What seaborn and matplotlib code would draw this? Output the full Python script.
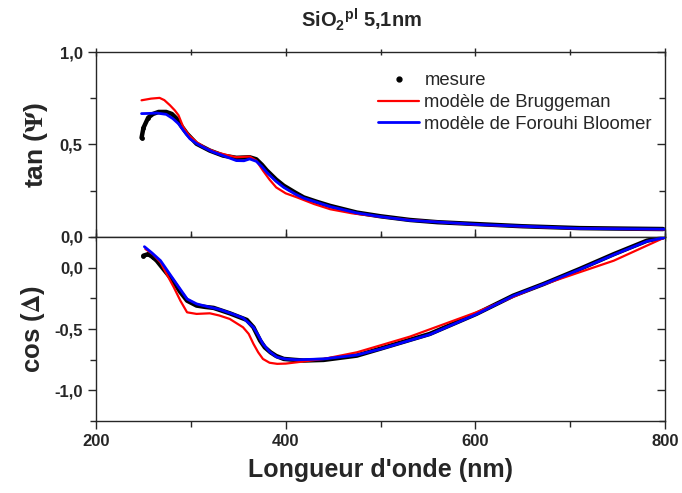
import numpy as np
import pandas as pd
import matplotlib
matplotlib.use("Agg")
import matplotlib.pyplot as plt
import seaborn as sns
from matplotlib.lines import Line2D
from matplotlib.ticker import MultipleLocator, FuncFormatter

# tan(Psi) - mesure
tan_mes_x = [248, 250, 255, 260, 266, 274, 280, 285, 290, 296, 306, 320, 334, 348, 362, 369,
             375, 380, 390, 398, 410, 419, 433, 447, 475, 500, 531, 560, 605, 650, 710, 760, 798]
tan_mes_y = [0.536, 0.59, 0.645, 0.665, 0.676, 0.676, 0.665, 0.64, 0.60, 0.558, 0.504, 0.467, 0.44,
             0.428, 0.431, 0.42, 0.39, 0.36, 0.31, 0.277, 0.24, 0.214, 0.19, 0.168, 0.132, 0.112,
             0.092, 0.08, 0.069, 0.058, 0.048, 0.045, 0.043]

# tan(Psi) - Bruggeman
tan_br_x = [248, 258, 267, 272, 278, 283, 287, 292, 298, 306, 316, 327, 338, 348, 362, 369,
            376, 383, 390, 400, 412, 430, 447, 470, 492, 530, 600, 700, 800]
tan_br_y = [0.739, 0.748, 0.752, 0.74, 0.712, 0.685, 0.658, 0.594, 0.55, 0.513, 0.48, 0.458, 0.443,
            0.431, 0.435, 0.413, 0.359, 0.31, 0.268, 0.236, 0.214, 0.178, 0.15, 0.128, 0.114,
            0.092, 0.067, 0.047, 0.04]

# tan(Psi) - Forouhi Bloomer
tan_fb_x = [248, 256, 264, 274, 281, 287, 293, 299, 306, 313, 323, 334, 348, 356, 362, 369,
            375, 380, 390, 398, 410, 419, 447, 475, 500, 531, 605, 710, 800]
tan_fb_y = [0.667, 0.668, 0.67, 0.663, 0.64, 0.612, 0.57, 0.531, 0.505, 0.485, 0.46, 0.44, 0.413,
            0.412, 0.422, 0.409, 0.38, 0.35, 0.3, 0.268, 0.232, 0.21, 0.164, 0.13, 0.11, 0.09,
            0.067, 0.046, 0.042]

# cos(Delta) - mesure
cos_mes_x = [250, 255, 260, 264, 272, 281, 289, 296, 306, 315, 324, 341, 359, 366, 373, 378, 384,
             390, 398, 410, 419, 440, 475, 500, 552, 601, 640, 672, 710, 746, 781, 798]
cos_mes_y = [0.098, 0.11, 0.085, 0.057, -0.02, -0.106, -0.2, -0.269, -0.309, -0.32, -0.328, -0.372,
             -0.426, -0.486, -0.594, -0.65, -0.69, -0.72, -0.744, -0.752, -0.757, -0.752, -0.717,
             -0.66, -0.54, -0.377, -0.228, -0.133, -0.011, 0.11, 0.22, 0.247]

# cos(Delta) - Bruggeman
cos_br_x = [252, 260, 268, 275, 282, 289, 296, 306, 320, 330, 341, 355, 361, 366, 371, 376, 383,
            391, 400, 412, 440, 475, 500, 531, 601, 668, 746, 800]
cos_br_y = [0.152, 0.11, 0.043, -0.06, -0.16, -0.27, -0.364, -0.377, -0.372, -0.39, -0.418, -0.486,
            -0.54, -0.621, -0.69, -0.744, -0.775, -0.784, -0.782, -0.771, -0.744, -0.69, -0.633,
            -0.562, -0.364, -0.147, 0.057, 0.247]

# cos(Delta) - Forouhi Bloomer
cos_fb_x = [251, 259, 268, 282, 296, 306, 313, 330, 345, 355, 366, 371, 376, 383, 391, 400, 412,
            440, 475, 500, 552, 601, 640, 672, 710, 746, 781, 800]
cos_fb_y = [0.171, 0.12, 0.057, -0.1, -0.255, -0.295, -0.309, -0.34, -0.38, -0.41, -0.486, -0.55,
            -0.621, -0.685, -0.73, -0.745, -0.751, -0.744, -0.712, -0.663, -0.545, -0.38, -0.23,
            -0.135, -0.015, 0.105, 0.215, 0.245]

x_ticks = [200, 400, 600, 800]
tan_ticks = [0.0, 0.5, 1.0]
cos_ticks = [-1.0, -0.5, 0.0]

sns.set_style("ticks")
plt.rcParams['font.family'] = ['Liberation Sans', 'DejaVu Sans']
plt.rcParams['mathtext.fontset'] = 'custom'
plt.rcParams['mathtext.rm'] = 'Liberation Sans:bold'
plt.rcParams['mathtext.bf'] = 'Liberation Sans:bold'

fig = plt.figure(figsize=(6.82, 4.93), dpi=100)
ax1 = fig.add_axes([0.1408, 0.5193, 0.8343, 0.3752])
ax2 = fig.add_axes([0.1408, 0.146, 0.8343, 0.3733])

comma = FuncFormatter(lambda v, p: f"{v:.1f}".replace('.', ','))


def draw(ax, mx, my, bx, by, fx, fy):
    # measured points: thick band, individual dots only visible at the start
    sns.lineplot(x=mx, y=my, ax=ax, color='black', linewidth=3.2, marker='o',
                 markersize=3.5, markeredgewidth=0, markevery=[0, 1, 2], sort=False,
                 solid_joinstyle='round', solid_capstyle='round', zorder=2)
    sns.lineplot(x=bx, y=by, ax=ax, color='#ff0000', linewidth=1.6, sort=False,
                 solid_joinstyle='round', zorder=3)
    sns.lineplot(x=fx, y=fy, ax=ax, color='#0000ff', linewidth=2.0, sort=False,
                 solid_joinstyle='round', zorder=4)
    ax.set_xlim(200, 800)
    ax.xaxis.set_major_locator(MultipleLocator(200))
    ax.xaxis.set_minor_locator(MultipleLocator(100))
    ax.yaxis.set_major_locator(MultipleLocator(0.5))
    ax.yaxis.set_minor_locator(MultipleLocator(0.25))
    for s in ax.spines.values():
        s.set_linewidth(1.0)
        s.set_visible(True)
    ax.tick_params(which='both', left=True, right=True, top=True, bottom=True, labelsize=12,
                   width=1.0)
    ax.tick_params(which='major', length=6)
    ax.tick_params(which='minor', length=4)
    ax.tick_params(axis='y', which='both', direction='out')


draw(ax1, tan_mes_x, tan_mes_y, tan_br_x, tan_br_y, tan_fb_x, tan_fb_y)
draw(ax2, cos_mes_x, cos_mes_y, cos_br_x, cos_br_y, cos_fb_x, cos_fb_y)

ax1.set_ylim(0, 1.0)
ax1.set_yticks(tan_ticks)
ax1.tick_params(axis='x', which='both', direction='inout', labelbottom=False)

ax2.set_ylim(-1.25, 0.25)
ax2.set_yticks(cos_ticks)
ax2.set_xticks(x_ticks)
ax2.tick_params(axis='x', which='both', direction='out')

# right-side ticks point inward
for ax in (ax1, ax2):
    for tk in ax.yaxis.get_major_ticks() + ax.yaxis.get_minor_ticks():
        tk.tick2line.set_marker(matplotlib.lines.TICKLEFT)
        tk.tick1line.set_marker(matplotlib.lines.TICKLEFT)
    ax.yaxis.set_major_formatter(comma)
    for t in ax.get_yticklabels() + ax.get_xticklabels():
        t.set_fontweight('bold')

ax1.set_ylabel(r"tan ($\mathbf{\Psi}$)", fontsize=19, fontweight='bold', labelpad=7,
               math_fontfamily='stix')
ax2.set_ylabel(r"cos ($\mathbf{\Delta}$)", fontsize=18.5, fontweight='bold', labelpad=5,
               math_fontfamily='stix')
ax2.set_xlabel("Longueur d'onde (nm)", fontsize=18, fontweight='bold', labelpad=6)
fig.text(361 / 682, 1 - 27 / 493, r"SiO$_\mathbf{2}$$^\mathbf{pl}$ 5,1nm", fontsize=14.5,
         fontweight='bold', ha='center', va='baseline')

handles = [Line2D([], [], color='black', marker='o', linestyle='none', markersize=3.5),
           Line2D([], [], color='#ff0000', linewidth=1.6),
           Line2D([], [], color='#0000ff', linewidth=2.0)]
labels = ["mesure", "modèle de Bruggeman", "modèle de Forouhi Bloomer"]
ax1.legend(handles, labels, loc='upper right', bbox_to_anchor=(0.99, 0.93), frameon=False,
           fontsize=13.3, handlelength=2.2, handletextpad=0.3, labelspacing=0.25, borderaxespad=0)

fig.savefig("out.png", dpi=100)
